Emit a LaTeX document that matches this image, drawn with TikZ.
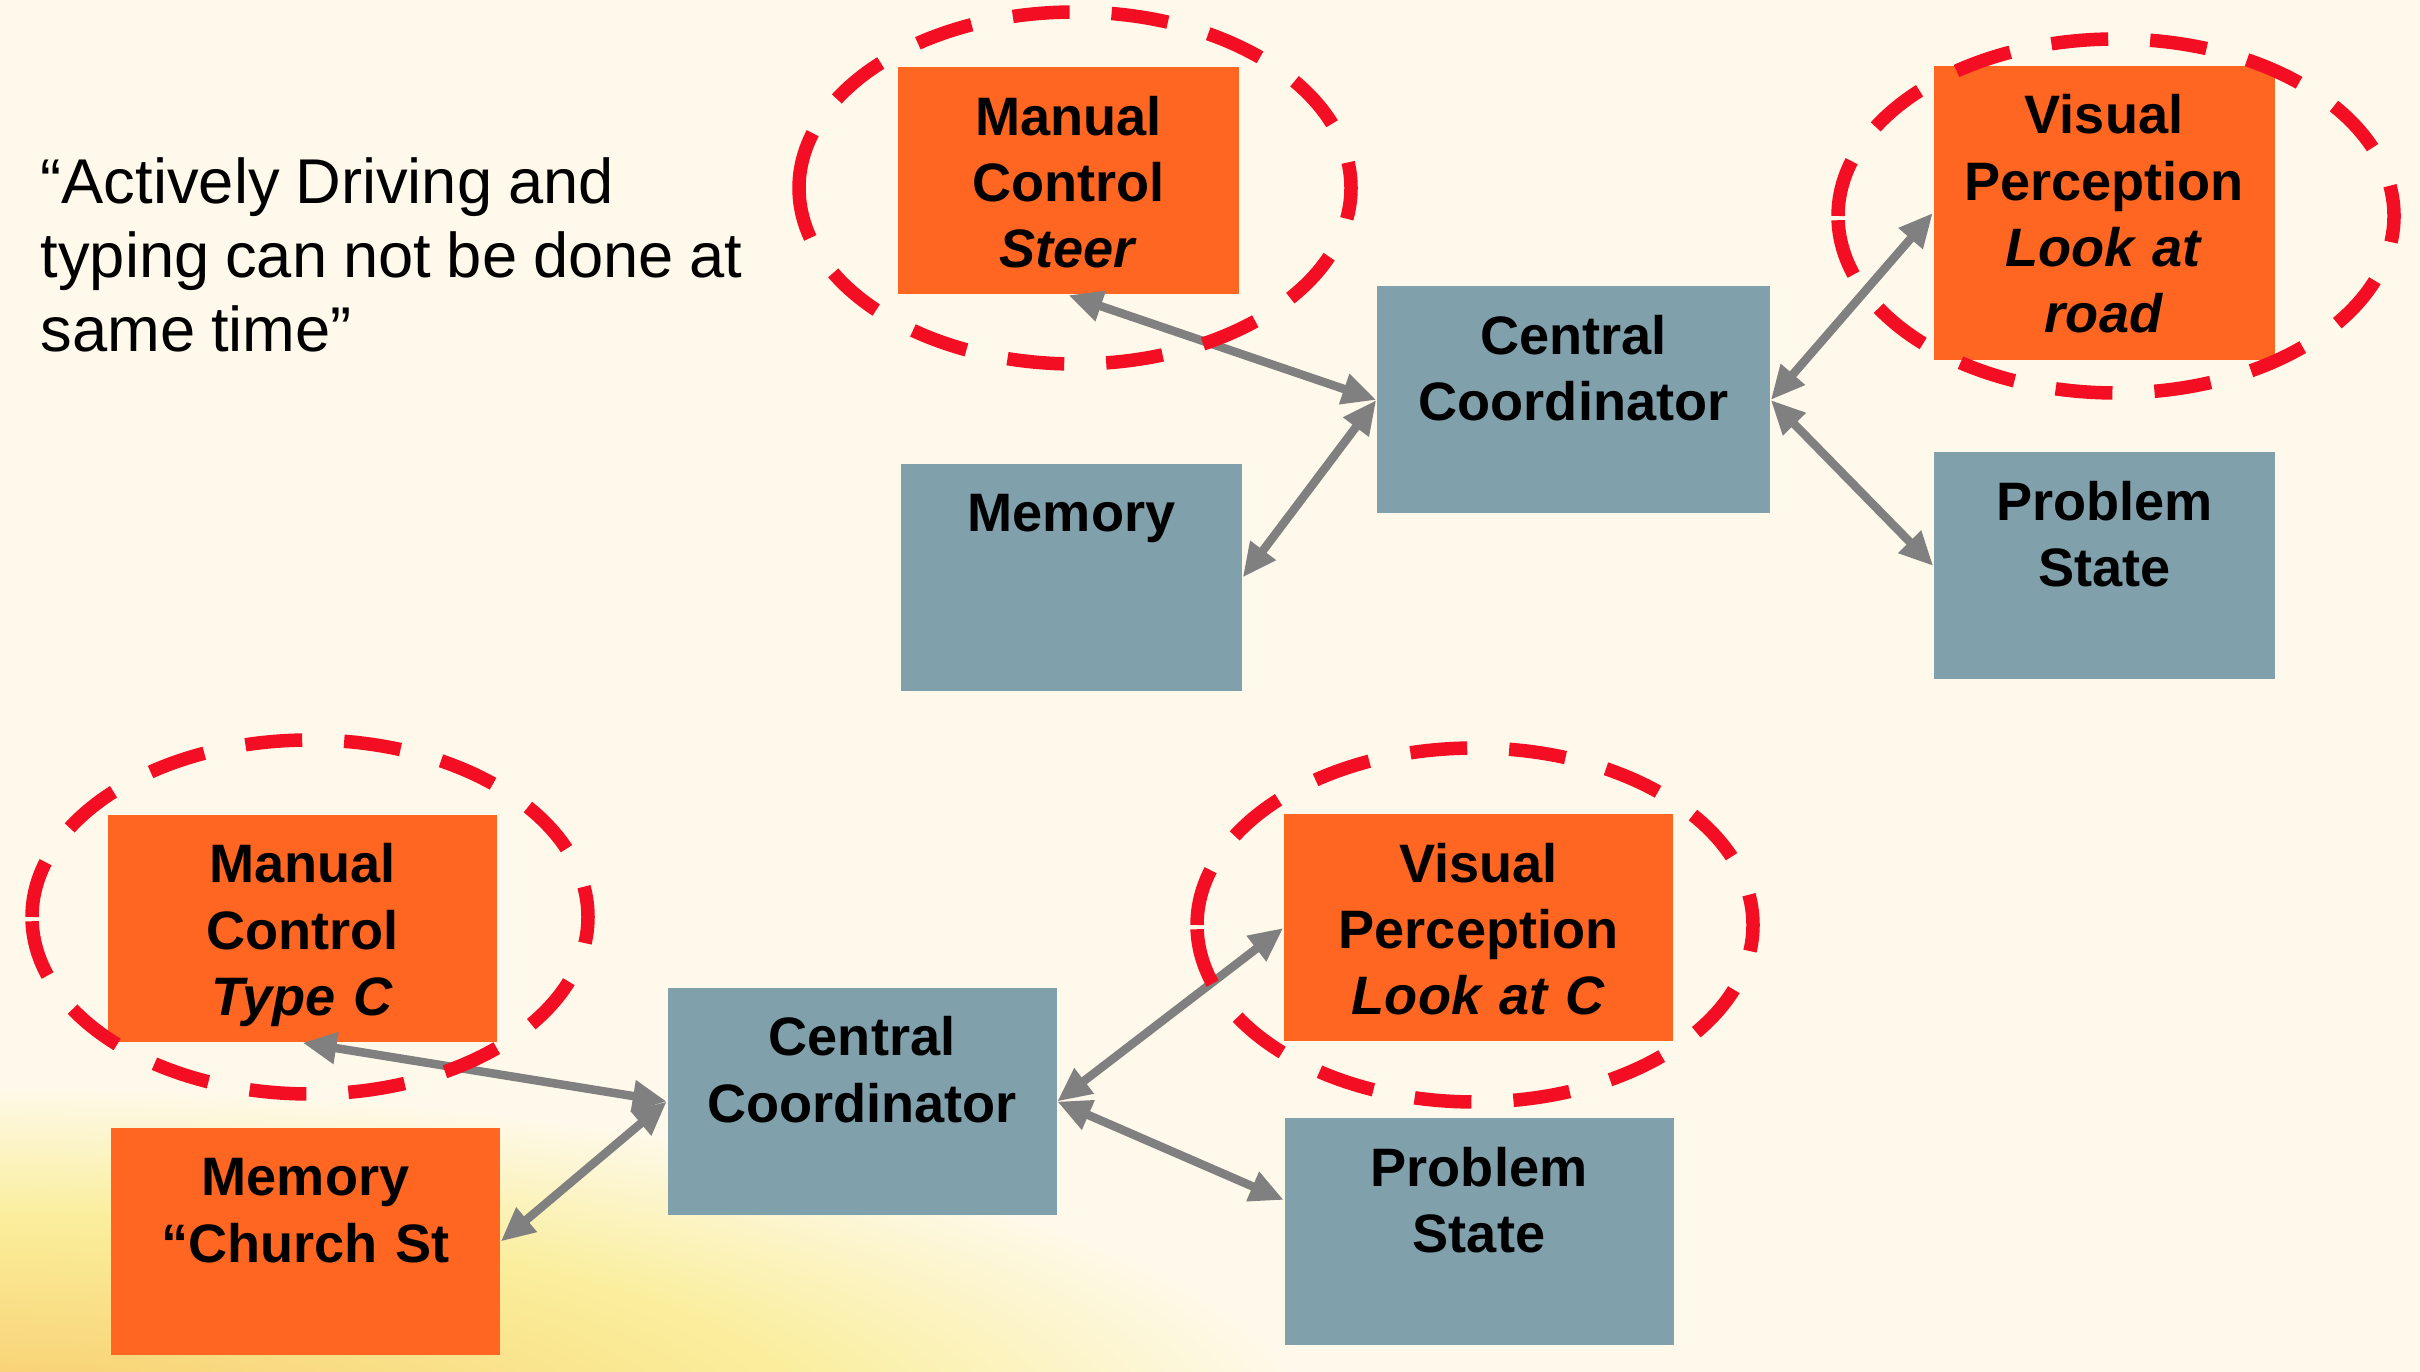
\documentclass[tikz,border=0pt]{standalone}
\usepackage{fontspec}
\setmainfont{Liberation Sans}
\usetikzlibrary{arrows.meta}
\definecolor{bgcream}{RGB}{254,249,234}
\definecolor{hotorange}{RGB}{255,102,34}
\definecolor{coolblue}{RGB}{128,160,171}
\definecolor{ringred}{RGB}{243,14,36}
\definecolor{linkgray}{RGB}{128,128,128}
\definecolor{glowdeep}{RGB}{247,186,96}
\definecolor{glowmid}{RGB}{249,214,122}
\definecolor{glowsoft}{RGB}{250,238,156}
\newcommand{\boxFont}[0]{\fontsize{15.4}{18.8}\selectfont\bfseries}
\newcommand{\quoteFont}[0]{\fontsize{18}{21}\selectfont}
\pgfdeclareradialshading{cornerglow}{\pgfpoint{0bp}{0bp}}{color(0bp)=(glowdeep); color(5bp)=(glowmid); color(15bp)=(glowsoft); color(24bp)=(bgcream); color(50bp)=(bgcream)}

\begin{document}
\begin{tikzpicture}
  \tikzset{
    module/.style={inner sep=0pt, align=center, font=\boxFont, text height=0.68cm, text depth=1.59cm},
    hot/.style={module, fill=hotorange},
    cool/.style={module, fill=coolblue},
    narrow/.style={text width=3.41cm},
    wide/.style={text width=3.89cm},
    link/.style={draw=linkgray, line width=0.085cm, {Triangle[length=0.34cm,width=0.30cm]}-{Triangle[length=0.34cm,width=0.30cm]}},
    ring/.style={draw=ringred, line width=0.135cm, dash pattern=on 0.57cm off 0.42cm}
  }
  \useasboundingbox (0,0) rectangle (24.2,13.72);
  \fill[bgcream] (0,0) rectangle (24.2,13.72);
  \begin{scope}
    \clip (0,0) rectangle (24.2,13.72);
    \shade[shading=cornerglow] (-14.3,-4.2) rectangle (13.7,3.0);
  \end{scope}

  \node[font=\quoteFont, text width=7.6cm, align=left, inner sep=0pt, anchor=base west] (quote) at (0.40,11.68)
    {\spaceskip=0.25em plus 0.05em\relax “Actively Driving and\\typing can not be done at\\same time”};

  \node[hot, narrow] (manualTop) at (10.685,11.91) {Manual\\Control\\\textit{Steer}};
  \node[cool, narrow] (memoryTop) at (10.715,7.945) {Memory};
  \node[cool, text width=3.93cm] (centralTop) at (15.735,9.72) {Central\\Coordinator};
  \node[hot, narrow, text depth=2.26cm] (visualTop) at (21.04,11.59) {Visual\\Perception\\\textit{Look at}\\\textit{road}};
  \node[cool, narrow] (problemTop) at (21.045,8.06) {Problem\\State};

  \node[hot, wide] (manualBot) at (3.025,4.435) {Manual\\Control\\\textit{Type C}};
  \node[hot, wide] (memoryBot) at (3.055,1.305) {Memory\\“Church St};
  \node[cool, wide] (centralBot) at (8.62,2.705) {Central\\Coordinator};
  \node[hot, wide] (visualBot) at (14.785,4.44) {Visual\\Perception\\\textit{Look at C}};
  \node[cool, wide] (problemBot) at (14.79,1.40) {Problem\\State};

  \draw[link] (manualTop.south) -- (centralTop.west);
  \draw[link] (memoryTop.east) -- (centralTop.west);
  \draw[link] (centralTop.east) -- (visualTop.west);
  \draw[link] (centralTop.east) -- (problemTop.west);

  \draw[link] (manualBot.south) -- (centralBot.west);
  \draw[link] (memoryBot.east) -- (centralBot.west);
  \draw[link] (centralBot.east) -- (visualBot.west);
  \draw[link] (centralBot.east) -- ([yshift=0.32cm]problemBot.west);

  \draw[ring] (7.99,11.84) arc[start angle=180, end angle=-180, x radius=2.76cm, y radius=1.76cm];
  \draw[ring] (18.38,11.56) arc[start angle=180, end angle=-180, x radius=2.78cm, y radius=1.77cm];
  \draw[ring] (0.32,4.55) arc[start angle=180, end angle=-180, x radius=2.78cm, y radius=1.77cm];
  \draw[ring] (11.97,4.47) arc[start angle=180, end angle=-180, x radius=2.78cm, y radius=1.77cm];
\end{tikzpicture}
\end{document}
